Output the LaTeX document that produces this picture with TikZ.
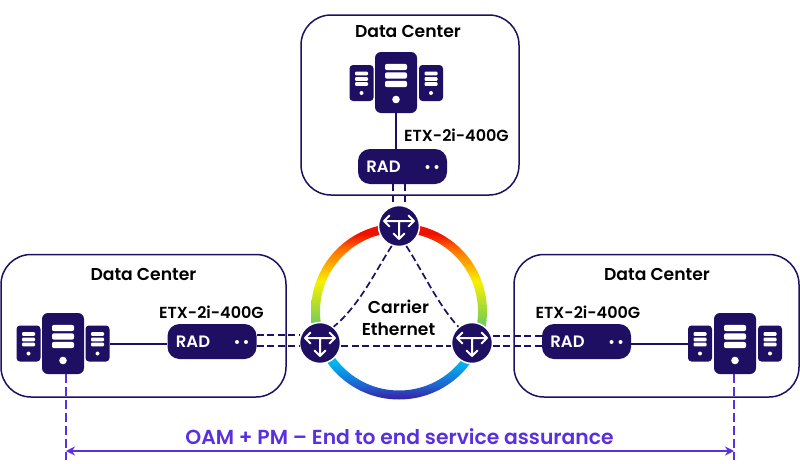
\documentclass[tikz,border=0pt]{standalone}
\usepackage{fontspec}
\usetikzlibrary{arrows.meta,calc}
\newfontfamily\popsb{Poppins SemiBold}
\definecolor{navy}{HTML}{1F0F63}
\definecolor{violetline}{HTML}{5A2FE0}
\definecolor{ra}{HTML}{3A1FA0}
\definecolor{rb}{HTML}{2060D0}
\definecolor{rc}{HTML}{00B4F0}
\definecolor{rd}{HTML}{7FD050}
\definecolor{re}{HTML}{F8F000}
\definecolor{rf}{HTML}{FF7000}
\definecolor{rg}{HTML}{F01000}
\pgfdeclareverticalshading{ringshade}{100bp}{
  color(0bp)=(ra);
  color(25bp)=(ra);
  color(29bp)=(rb);
  color(35.2bp)=(rc);
  color(47.7bp)=(rd);
  color(58.5bp)=(re);
  color(67.6bp)=(rf);
  color(72bp)=(rg);
  color(100bp)=(rg)}
\tikzset{
  x=1pt,y=-1pt,
  dcbox/.style={draw=navy,line width=1.5pt,rounded corners=30pt,fill=white},
  lbl/.style={font=\popsb\fontsize{17.2}{22}\selectfont,text=black,inner sep=0pt},
  etx/.style={font=\popsb\fontsize{16}{20}\selectfont,text=black,inner sep=0pt},
  radbox/.style={fill=navy,rounded corners=12pt,minimum width=89pt,minimum height=35pt,inner sep=0pt},
  radtxt/.style={font=\popsb\fontsize{16.5}{16}\selectfont,text=white,inner sep=0pt},
  bigsrv/.style={fill=navy,rounded corners=6pt,minimum width=42pt,minimum height=61pt,inner sep=0pt},
  smallsrv/.style={fill=navy,rounded corners=3.5pt,minimum width=24pt,minimum height=36pt,inner sep=0pt},
  rtr/.style={circle,fill=navy,draw=white,line width=1.5pt,minimum size=41pt,inner sep=0pt},
  solidlink/.style={draw=navy,line width=2.2pt},
  dashlink/.style={draw=navy,line width=1.7pt,dash pattern=on 7pt off 3.5pt},
  measure/.style={draw=violetline,line width=1.4pt},
}
\newcommand{\srvdetail}[3]{%
  \foreach \dy in {-15.5,-7,1.5}{
    \fill[white,rounded corners=2pt] ($(#1)+(-11,\dy-3.2)$) rectangle ($(#1)+(11,\dy+3.2)$);
  }
  \fill[white] ($(#1)+(0,17)$) circle (3.8pt);
  \foreach \s in {#2,#3}{
    \foreach \dy in {-9.5,-4,1}{
      \fill[white,rounded corners=1pt] ($(\s)+(-6.5,\dy-1.8)$) rectangle ($(\s)+(6.5,\dy+1.8)$);
    }
    \fill[white] ($(\s)+(0,10)$) circle (2pt);
  }
}
\newcommand{\raddots}[1]{%
  \node[radtxt] at ($(#1)+(-19,0.5)$) {RAD};
  \fill[white] ($(#1)+(25,0.5)$) circle (2pt);
  \fill[white] ($(#1)+(34,0.5)$) circle (2pt);
}
\newcommand{\rtrglyph}[1]{%
  \begin{scope}[shift={(#1)}]
    \draw[white,line width=2pt,line join=round,line cap=round]
      (-9.5,-10.5) -- (-15,-5) -- (-9.5,0.5) (-15,-5) -- (15,-5)
      (9.5,-10.5) -- (15,-5) -- (9.5,0.5)
      (0,-5) -- (0,13) (-5.5,7.5) -- (0,13) -- (5.5,7.5);
  \end{scope}
}
\begin{document}
\begin{tikzpicture}
\useasboundingbox (0,0) rectangle (800,463);
% data center boxes
\draw[dcbox] (301,15) rectangle (519,195);
\draw[dcbox] (1,254.5) rectangle (286,397);
\draw[dcbox] (514,254.5) rectangle (799,397);
% ring
\path[shading=ringshade,even odd rule] (399,311.5) circle (88pt) (399,311.5) circle (79pt);
% nodes
\node[bigsrv] (sT) at (396,82.5) {};
\node[smallsrv] (sTa) at (361.5,83) {};
\node[smallsrv] (sTb) at (431,83) {};
\node[bigsrv] (sL) at (63,343.5) {};
\node[smallsrv] (sLa) at (28.5,343.5) {};
\node[smallsrv] (sLb) at (97.5,343.5) {};
\node[bigsrv] (sR) at (735,343.5) {};
\node[smallsrv] (sRa) at (700,343.5) {};
\node[smallsrv] (sRb) at (770,343.5) {};
\node[radbox] (rT) at (402.5,166.5) {};
\node[radbox] (rL) at (212,341.5) {};
\node[radbox] (rR) at (586.5,341.5) {};
% labels
\node[lbl] at (408,31) {Data Center};
\node[lbl] at (143.5,274) {Data Center};
\node[lbl] at (657,274) {Data Center};
\node[etx] at (456.5,135.5) {ETX-2i-400G};
\node[etx] at (211.5,312) {ETX-2i-400G};
\node[etx] at (588,312) {ETX-2i-400G};
\node[lbl,align=center] at (398.5,318) {Carrier\\Ethernet};
\node[font=\popsb\fontsize{20.3}{22}\selectfont,text=violetline,inner sep=0pt] at (399.5,437) {OAM + PM – End to end service assurance};
% links
\node[rtr] (cT) at (399,226) {};
\node[rtr] (cL) at (320,343) {};
\node[rtr] (cR) at (472,343) {};
\draw[solidlink] (sT.south) -- (sT.south |- rT.north);
\draw[solidlink] (sLb.east |- 0,344) -- (rL.west |- 0,344);
\draw[solidlink] (rR.east |- 0,344) -- (sRa.west |- 0,344);
\draw[dashlink] ([xshift=-9.5pt]rT.south) -- ([xshift=-9.5pt]rT.south |- cT.north);
\draw[dashlink] ([xshift=2.5pt]rT.south) -- ([xshift=2.5pt]rT.south |- cT.north);
\draw[dashlink] ([yshift=6.5pt]rL.east) -- ([yshift=6.5pt]rL.east -| cL.west);
\draw[dashlink] ([yshift=-4.5pt]rL.east) -- ([yshift=-4.5pt]rL.east -| cL.west);
\draw[dashlink] ([yshift=5.5pt]rR.west) -- ([yshift=5.5pt]rR.west -| cR.east);
\draw[dashlink] ([yshift=-4.5pt]rR.west) -- ([yshift=-4.5pt]rR.west -| cR.east);
\draw[dashlink] ([yshift=-3pt]cL.east) -- ([yshift=-3pt]cR.west);
\draw[dashlink] (cT.250) .. controls (376,270) and (360,305) .. (cL.50);
\draw[dashlink] (cT.290) .. controls (422,270) and (438,305) .. (cR.130);
% details
\srvdetail{sT}{sTa}{sTb}
\srvdetail{sL}{sLa}{sLb}
\srvdetail{sR}{sRa}{sRb}
\raddots{rT}
\raddots{rL}
\raddots{rR}
\rtrglyph{cT}
\rtrglyph{cL}
\rtrglyph{cR}
% measurement
\coordinate (mL) at (66,460);
\coordinate (mR) at (734,460);
\draw[measure,dash pattern=on 9pt off 4pt] (sL.south -| mL) -- (mL);
\draw[measure,dash pattern=on 9pt off 4pt] (sR.south -| mR) -- (mR);
\draw[measure,{Stealth[length=9pt,width=9pt]}-{Stealth[length=9pt,width=9pt]}] (mL |- 0,451) -- (mR |- 0,451);
\end{tikzpicture}
\end{document}
